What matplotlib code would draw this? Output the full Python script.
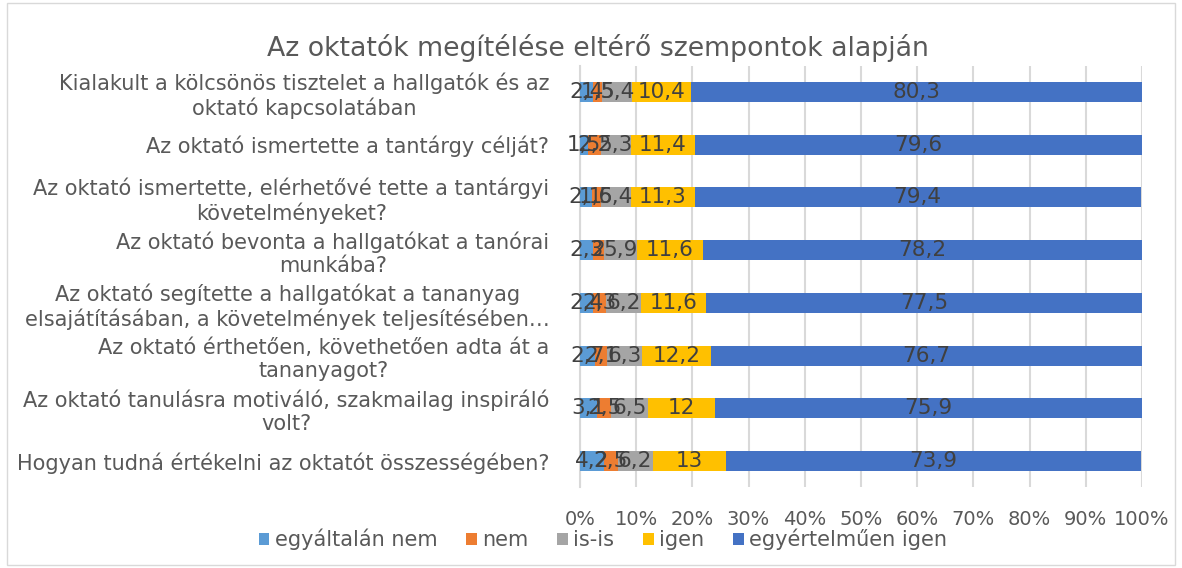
import numpy as np
import matplotlib
matplotlib.use("Agg")
import matplotlib.pyplot as plt
from matplotlib.patches import Rectangle

# categories, top to bottom
kerdesek = [
    "Kialakult a kölcsönös tisztelet a hallgatók és az\noktató kapcsolatában",
    "Az oktató ismertette a tantárgy célját?",
    "Az oktató ismertette, elérhetővé tette a tantárgyi\nkövetelményeket?",
    "Az oktató bevonta a hallgatókat a tanórai\nmunkába?",
    "Az oktató segítette a hallgatókat a tananyag\nelsajátításában, a követelmények teljesítésében…",
    "Az oktató érthetően, követhetően adta át a\ntananyagot?",
    "Az oktató tanulásra motiváló, szakmailag inspiráló\nvolt?",
    "Hogyan tudná értékelni az oktatót összességében?",
]
sorozatok = ["egyáltalán nem", "nem", "is-is", "igen", "egyértelműen igen"]
egyaltalan_nem = [2.4, 1.5, 2.1, 2.3, 2.4, 2.7, 3.1, 4.2]
nem = [1.5, 2.2, 1.6, 2.0, 2.3, 2.1, 2.5, 2.5]
is_is = [5.4, 5.3, 5.4, 5.9, 6.2, 6.3, 6.5, 6.2]
igen = [10.4, 11.4, 11.3, 11.6, 11.6, 12.2, 12, 13]
egyertelmuen = [80.3, 79.6, 79.4, 78.2, 77.5, 76.7, 75.9, 73.9]
szinek = ["#5B9BD5", "#ED7D31", "#A5A5A5", "#FFC000", "#4472C4"]

adatok = [egyaltalan_nem, nem, is_is, igen, egyertelmuen]

fig = plt.figure(figsize=(11.82, 5.68), dpi=100)
fig.patches.append(Rectangle((0.006, 0.006), 0.988, 0.988, transform=fig.transFigure,
                             fill=False, edgecolor="#D9D9D9", linewidth=1))
ax = fig.add_axes([0.4907, 0.1419, 0.4755, 0.7426])

y = np.arange(len(kerdesek))
bal = np.zeros(len(kerdesek))
for nev, ert, szin in zip(sorozatok, adatok, szinek):
    ert = np.array(ert)
    ax.barh(y, ert, left=bal, height=0.38, color=szin, label=nev, zorder=3)
    for yi, b, v in zip(y, bal, ert):
        szov = ("%g" % v).replace(".", ",")
        ax.text(b + v / 2, yi, szov, ha="center", va="center", fontsize=15.5,
                color="#404040", zorder=4)
    bal = bal + ert

ax.set_ylim(len(kerdesek) - 0.5, -0.5)
ax.set_xlim(0, 100)
ax.set_xticks(np.arange(0, 101, 10))
ax.set_xticklabels(["%d%%" % t for t in range(0, 101, 10)])
ax.set_yticks(y)
ax.set_yticklabels(kerdesek, multialignment="center", linespacing=1.2)
ax.tick_params(axis="x", length=0, labelsize=14, labelcolor="#595959", pad=16)
ax.tick_params(axis="y", length=0, labelsize=15, labelcolor="#595959", pad=22)
ax.grid(axis="x", color="#D9D9D9", linewidth=1.5, zorder=0)
for s in ["top", "right", "bottom"]:
    ax.spines[s].set_visible(False)
ax.spines["left"].set_color("#D9D9D9")
ax.spines["left"].set_linewidth(1.5)

fig.suptitle("Az oktatók megítélése eltérő szempontok alapján", x=0.506, y=0.94,
             fontsize=19.3, color="#595959")

fig.legend(loc="center", bbox_to_anchor=(0.51, 0.05), ncol=5, frameon=False,
           fontsize=15, labelcolor="#595959", handlelength=0.5, handleheight=0.5,
           handletextpad=0.25, columnspacing=1.4)

fig.savefig("out.png", dpi=100)
